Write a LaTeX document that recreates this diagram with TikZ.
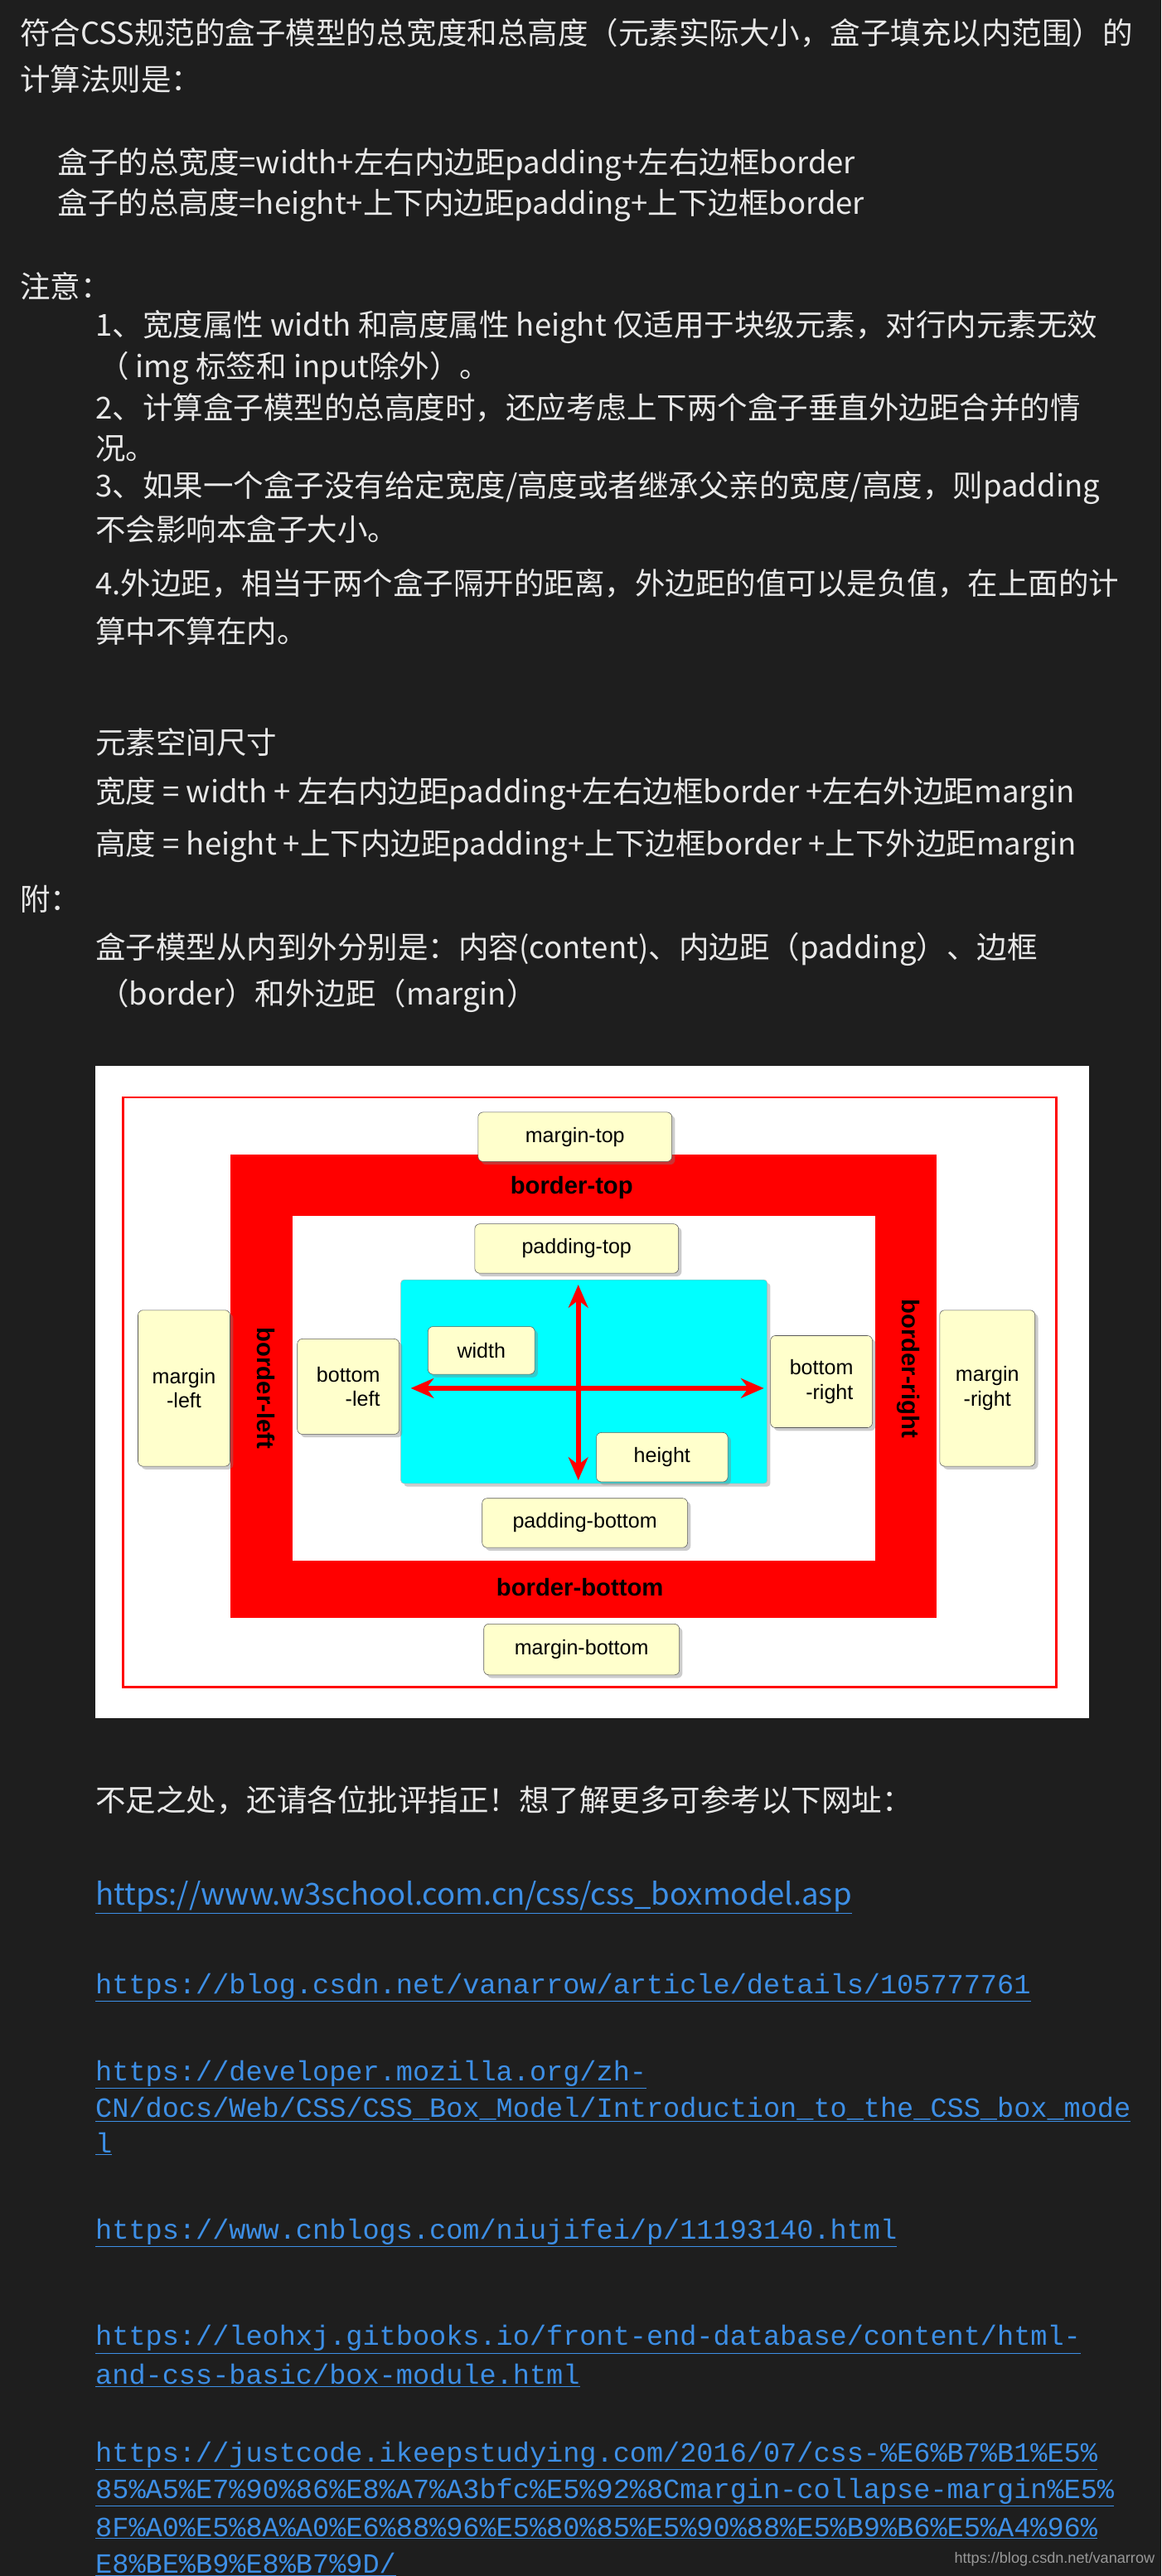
\documentclass[tikz,border=0pt]{standalone}
\usepackage{fontspec}
\setmainfont{Noto Sans CJK SC}
\setmonofont{Liberation Mono}
\newfontfamily\arialfont{Liberation Sans}
\usetikzlibrary{shadows,arrows.meta}
\definecolor{pagebg}{HTML}{1E1E1E}
\definecolor{pagetext}{HTML}{E8E8E8}
\definecolor{linkblue}{HTML}{3D8FE6}
\definecolor{boxred}{HTML}{FF0000}
\definecolor{boxcyan}{HTML}{00FFFF}
\definecolor{lblfill}{HTML}{FFFFCC}
\begin{document}
\begin{tikzpicture}[
x=0.05cm,y=-0.05cm,
txt/.style={anchor=west,inner sep=0pt,text=pagetext,font=\fontsize{26.2}{31}\selectfont},
lnk/.style={anchor=west,inner sep=0pt,text=linkblue,font=\ttfamily\fontsize{24.1}{28}\selectfont},
lbl/.style={
	rectangle,rounded corners=1.5mm,draw=gray!70!black,fill=lblfill,
	drop shadow={opacity=0.4},
	font=\arialfont\fontsize{18}{21}\selectfont},
bord/.style={text=black,font=\arialfont\bfseries\fontsize{21}{24}\selectfont},
arr/.style={-{Stealth[length=7mm,width=6mm]},draw=boxred,line width=1.6mm}
]
\useasboundingbox[fill=pagebg] (0,0) rectangle (707,1568);
% text above
\node[txt] (t1) at (12,20) {符合CSS规范的盒子模型的总宽度和总高度（元素实际大小，盒子填充以内范围）的};
\node[txt] (t2) at (12,48) {计算法则是：};
\node[txt] (t3) at (35,100) {盒子的总宽度=width+左右内边距padding+左右边框border};
\node[txt] (t4) at (35,125) {盒子的总高度=height+上下内边距padding+上下边框border};
\node[txt] (t5) at (12,174) {注意：};
\node[txt] (t6) at (58,199) {1、宽度属性 width 和高度属性 height 仅适用于块级元素，对行内元素无效};
\node[txt] (t7) at (60,224) {（ img 标签和 input除外）。};
\node[txt] (t8) at (58,248) {2、计算盒子模型的总高度时，还应考虑上下两个盒子垂直外边距合并的情};
\node[txt] (t9) at (58,273) {况。};
\node[txt] (t10) at (58,297) {3、如果一个盒子没有给定宽度/高度或者继承父亲的宽度/高度，则padding};
\node[txt] (t11) at (58,322) {不会影响本盒子大小。};
\node[txt] (t12) at (58,355) {4.外边距，相当于两个盒子隔开的距离，外边距的值可以是负值，在上面的计};
\node[txt] (t13) at (58,384) {算中不算在内。};
\node[txt] (t14) at (58,452) {元素空间尺寸};
\node[txt] (t15) at (58,483) {宽度 = width + 左右内边距padding+左右边框border +左右外边距margin};
\node[txt] (t16) at (58,515) {高度 = height +上下内边距padding+上下边框border +上下外边距margin};
\node[txt] (t17) at (12,547) {附：};
\node[txt] (t18) at (58,578) {盒子模型从内到外分别是：内容(content)、内边距（padding）、边框};
\node[txt] (t19) at (60,606) {（border）和外边距（margin）};
% box model picture
\fill[white] (58,649) rectangle (663,1046);
\draw[boxred,line width=0.6mm] (75,668) rectangle (643,1027);
\fill[boxred] (140,703) rectangle (570,985);
\fill[white] (178,740) rectangle (533,950);
\fill[boxcyan,draw=gray!60,rounded corners=1mm,drop shadow={opacity=0.4}] (244,779) rectangle (467,903);
\node[lbl,minimum width=5.9cm,minimum height=1.5cm] (mtop) at (350,692) {margin-top};
\node[bord] (btop) at (348,723) {border-top};
\node[lbl,minimum width=6.2cm,minimum height=1.5cm] (ptop) at (351,760) {padding-top};
\node[lbl,minimum width=3.1cm,minimum height=2.9cm,align=right] (bleft) at (212,844) {bottom\\-left};
\node[lbl,minimum width=3.1cm,minimum height=2.8cm,align=right] (bright) at (500,841) {bottom\\-right};
\node[lbl,minimum width=2.8cm,minimum height=4.75cm,align=center] (mleft) at (112,845) {margin\\-left};
\node[lbl,minimum width=2.9cm,minimum height=4.75cm,align=center] (mright) at (601,845) {margin\\-right};
\node[bord,rotate=-90] (bl) at (162,845) {border-left};
\node[bord,rotate=-90] (br) at (553,833) {border-right};
\node[lbl,minimum width=6.25cm,minimum height=1.5cm] (pbot) at (356,927) {padding-bottom};
\node[bord] (bbot) at (353,966) {border-bottom};
\node[lbl,minimum width=5.95cm,minimum height=1.55cm] (mbot) at (354,1004) {margin-bottom};
% arrows
\coordinate (c) at (352,845);
\coordinate (eleft) at (250,845);
\coordinate (eright) at (465,845);
\coordinate (etop) at (352,782);
\coordinate (ebot) at (352,901);
\draw[arr] (c) -- (eleft);
\draw[arr] (c) -- (eright);
\draw[arr] (c) -- (etop);
\draw[arr] (c) -- (ebot);
\node[lbl,minimum width=3.25cm,minimum height=1.45cm] (wid) at (293,822) {width};
\node[lbl,minimum width=4cm,minimum height=1.5cm] (hei) at (403,887) {height};
% text below
\node[txt] (t20) at (58,1096) {不足之处，还请各位批评指正！想了解更多可参考以下网址：};
\node[txt,text=linkblue] (l1) at (58,1155) {\underline{https://www.w3school.com.cn/css/css\_boxmodel.asp}};
\node[lnk] (l2) at (58,1210) {\underline{https://blog.csdn.net/vanarrow/article/details/105777761}};
\node[lnk] (l3a) at (58,1263) {\underline{https://developer.mozilla.org/zh-}};
\node[lnk] (l3b) at (58,1284) {\underline{CN/docs/Web/CSS/CSS\_Box\_Model/Introduction\_to\_the\_CSS\_box\_mode}};
\node[lnk] (l3c) at (58,1305) {\underline{l}};
\node[lnk] (l4) at (58,1359) {\underline{https://www.cnblogs.com/niujifei/p/11193140.html}};
\node[lnk] (l5a) at (58,1424) {\underline{https://leohxj.gitbooks.io/front-end-database/content/html-}};
\node[lnk] (l5b) at (58,1446) {\underline{and-css-basic/box-module.html}};
\node[lnk] (l6a) at (58,1495) {\underline{https://justcode.ikeepstudying.com/2016/07/css-\%E6\%B7\%B1\%E5\%}};
\node[lnk] (l6b) at (58,1517) {\underline{85\%A5\%E7\%90\%86\%E8\%A7\%A3bfc\%E5\%92\%8Cmargin-collapse-margin\%E5\%}};
\node[lnk] (l6c) at (58,1539) {\underline{8F\%A0\%E5\%8A\%A0\%E6\%88\%96\%E5\%80\%85\%E5\%90\%88\%E5\%B9\%B6\%E5\%A4\%96\%}};
\node[lnk] (l6d) at (58,1561) {\underline{E8\%BE\%B9\%E8\%B7\%9D/}};
\node[anchor=east,inner sep=0pt,text=gray!80,font=\arialfont\fontsize{13}{15}\selectfont] (wm) at (703,1558) {https://blog.csdn.net/vanarrow};
\end{tikzpicture}
\end{document}
